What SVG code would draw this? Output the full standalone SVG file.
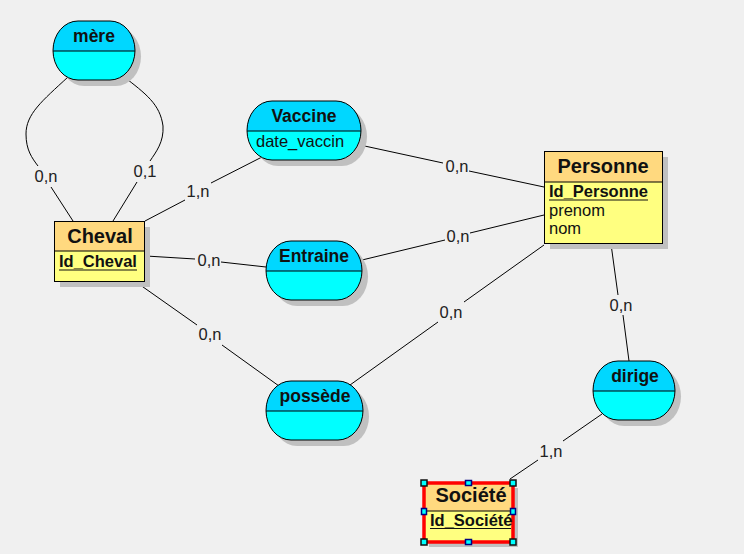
<svg xmlns="http://www.w3.org/2000/svg" width="744" height="554" viewBox="0 0 744 554">
<style>
.bg{fill:#F0F0F0}
.sh{fill:#C0C0C0}
.ab{fill:#00FFFF}
.ah{fill:#00D7FF}
.eh{fill:#FFD97F}
.eb{fill:#FFFF80}
.ol{fill:none;stroke:#000;stroke-width:1}
.dv{stroke:#000;stroke-width:1}
.ul{stroke:#111;stroke-width:1.2}
.t1{font-family:"Liberation Sans",Arial,sans-serif;font-weight:bold;font-size:17.5px;fill:#111;text-anchor:middle}
.t2{font-family:"Liberation Sans",Arial,sans-serif;font-weight:bold;font-size:20px;fill:#111;text-anchor:middle}
.id{font-family:"Liberation Sans",Arial,sans-serif;font-weight:bold;font-size:16.5px;fill:#111}
.at{font-family:"Liberation Sans",Arial,sans-serif;font-size:16.5px;fill:#111}
.lb{font-family:"Liberation Sans",Arial,sans-serif;font-size:16.5px;fill:#222;text-anchor:middle}
.cn{fill:none;stroke:#000;stroke-width:1}
.hc{fill:#00FFFF;stroke:#111;stroke-width:1.5}
.hm{fill:#00FFFF;stroke:#000080;stroke-width:1.5}
</style>
<rect class="bg" x="0" y="0" width="744" height="554"/>

<g id="connectors">
  <path class="cn" d="M68,77 C42,101 26,114 26,134 C26,150 32,158 38,166 M51,187 L73,221"/>
  <path class="cn" d="M123,76 C146,94 160,104 163,126 C164,142 156,152 150,161 M137,182 L113,221"/>
  <path class="cn" d="M145,221 L185,200 M211,183 L262,157"/>
  <path class="cn" d="M360,145 L443,163 M469,171 L544,187"/>
  <path class="cn" d="M146,256 L195,259 M221,262 L266,267"/>
  <path class="cn" d="M362,260 L445,240 M470,233 L544,215"/>
  <path class="cn" d="M136,282 L197,325 M222,345 L279,386"/>
  <path class="cn" d="M350,385 L438,322 M464,302 L544,245"/>
  <path class="cn" d="M611,244 L618,295 M623,315 L629,361"/>
  <path class="cn" d="M602,414 L563,441 M538,460 L510,479"/>
  <text class="lb" x="46" y="182">0,n</text>
  <text class="lb" x="145" y="177">0,1</text>
  <text class="lb" x="198" y="197">1,n</text>
  <text class="lb" x="457" y="172">0,n</text>
  <text class="lb" x="209" y="266">0,n</text>
  <text class="lb" x="458" y="242">0,n</text>
  <text class="lb" x="210" y="340">0,n</text>
  <text class="lb" x="451" y="318">0,n</text>
  <text class="lb" x="621" y="311">0,n</text>
  <text class="lb" x="551" y="457">1,n</text>
</g>

<g id="mere" transform="translate(53,21)">
  <rect class="sh" x="6" y="6" width="82" height="59" rx="25" ry="29.5"/>
  <rect class="ab" x="0" y="0" width="82" height="59" rx="25" ry="29.5"/>
  <path class="ah" d="M0,30 V29.5 A25,29.5 0 0 1 25,0 H57 A25,29.5 0 0 1 82,29.5 V30 Z"/>
  <line class="dv" x1="0" y1="30" x2="82" y2="30"/>
  <rect class="ol" x="0" y="0" width="82" height="59" rx="25" ry="29.5"/>
  <text class="t1" x="41" y="21">mère</text>
</g>

<g id="vaccine" transform="translate(247,101)">
  <rect class="sh" x="6" y="6" width="114" height="59" rx="25" ry="29.5"/>
  <rect class="ab" x="0" y="0" width="114" height="59" rx="25" ry="29.5"/>
  <path class="ah" d="M0,30 V29.5 A25,29.5 0 0 1 25,0 H89 A25,29.5 0 0 1 114,29.5 V30 Z"/>
  <line class="dv" x1="0" y1="30" x2="114" y2="30"/>
  <rect class="ol" x="0" y="0" width="114" height="59" rx="25" ry="29.5"/>
  <text class="t1" x="57" y="21">Vaccine</text>
  <text class="at" x="9" y="46">date_vaccin</text>
</g>

<g id="entraine" transform="translate(266,241)">
  <rect class="sh" x="6" y="6" width="96" height="59" rx="25" ry="29.5"/>
  <rect class="ab" x="0" y="0" width="96" height="59" rx="25" ry="29.5"/>
  <path class="ah" d="M0,30 V29.5 A25,29.5 0 0 1 25,0 H71 A25,29.5 0 0 1 96,29.5 V30 Z"/>
  <line class="dv" x1="0" y1="30" x2="96" y2="30"/>
  <rect class="ol" x="0" y="0" width="96" height="59" rx="25" ry="29.5"/>
  <text class="t1" x="48" y="21">Entraine</text>
</g>

<g id="possede" transform="translate(266,381)">
  <rect class="sh" x="6" y="6" width="97" height="59" rx="25" ry="29.5"/>
  <rect class="ab" x="0" y="0" width="97" height="59" rx="25" ry="29.5"/>
  <path class="ah" d="M0,30 V29.5 A25,29.5 0 0 1 25,0 H72 A25,29.5 0 0 1 97,29.5 V30 Z"/>
  <line class="dv" x1="0" y1="30" x2="97" y2="30"/>
  <rect class="ol" x="0" y="0" width="97" height="59" rx="25" ry="29.5"/>
  <text class="t1" x="49" y="21">possède</text>
</g>

<g id="dirige" transform="translate(593,361)">
  <rect class="sh" x="6" y="6" width="82" height="59" rx="25" ry="29.5"/>
  <rect class="ab" x="0" y="0" width="82" height="59" rx="25" ry="29.5"/>
  <path class="ah" d="M0,30 V29.5 A25,29.5 0 0 1 25,0 H57 A25,29.5 0 0 1 82,29.5 V30 Z"/>
  <line class="dv" x1="0" y1="30" x2="82" y2="30"/>
  <rect class="ol" x="0" y="0" width="82" height="59" rx="25" ry="29.5"/>
  <text class="t1" x="42" y="21">dirige</text>
</g>

<g id="cheval" transform="translate(54,221)">
  <rect class="sh" x="6" y="6" width="90" height="60"/>
  <rect class="eb" x="0" y="0" width="90" height="60"/>
  <rect class="eh" x="0" y="0" width="90" height="30"/>
  <line class="dv" x1="0" y1="30" x2="90" y2="30"/>
  <rect class="ol" x="0.5" y="0.5" width="90" height="60"/>
  <text class="t2" x="46" y="22">Cheval</text>
  <text class="id" x="5" y="46">Id_Cheval</text>
  <line class="ul" x1="5" y1="49" x2="83" y2="49"/>
</g>

<g id="personne" transform="translate(544,151)">
  <rect class="sh" x="6" y="6" width="118" height="92"/>
  <rect class="eb" x="0" y="0" width="118" height="92"/>
  <rect class="eh" x="0" y="0" width="118" height="31"/>
  <line class="dv" x1="0" y1="31" x2="118" y2="31"/>
  <rect class="ol" x="0.5" y="0.5" width="118" height="92"/>
  <text class="t2" x="59" y="22">Personne</text>
  <text class="id" x="5" y="46">Id_Personne</text>
  <line class="ul" x1="5" y1="49" x2="104" y2="49"/>
  <text class="at" x="5" y="64.5">prenom</text>
  <text class="at" x="5" y="83">nom</text>
</g>

<g id="societe" transform="translate(424,483)">
  <rect class="sh" x="5" y="5" width="89" height="59"/>
  <rect class="eb" x="0" y="0" width="89" height="59"/>
  <rect class="eh" x="0" y="0" width="89" height="28"/>
  <line class="dv" x1="0" y1="28" x2="89" y2="28"/>
  <rect x="0" y="0" width="89" height="59" fill="none" stroke="#FF0000" stroke-width="3.5"/>
  <text class="t2" x="47" y="18.5">Société</text>
  <text class="id" x="6" y="42.5">Id_Société</text>
  <line class="ul" x1="6" y1="45.5" x2="87" y2="45.5"/>
  <rect class="hc" x="-3" y="-3" width="6" height="6"/>
  <rect class="hc" x="86" y="-3" width="6" height="6"/>
  <rect class="hc" x="-3" y="56" width="6" height="6"/>
  <rect class="hc" x="86" y="56" width="6" height="6"/>
  <rect class="hm" x="41.5" y="-2.5" width="6" height="5"/>
  <rect class="hm" x="41.5" y="56.5" width="6" height="5"/>
  <rect class="hm" x="-2.5" y="25.5" width="5" height="6"/>
  <rect class="hm" x="86.5" y="25.5" width="5" height="6"/>
</g>
</svg>
